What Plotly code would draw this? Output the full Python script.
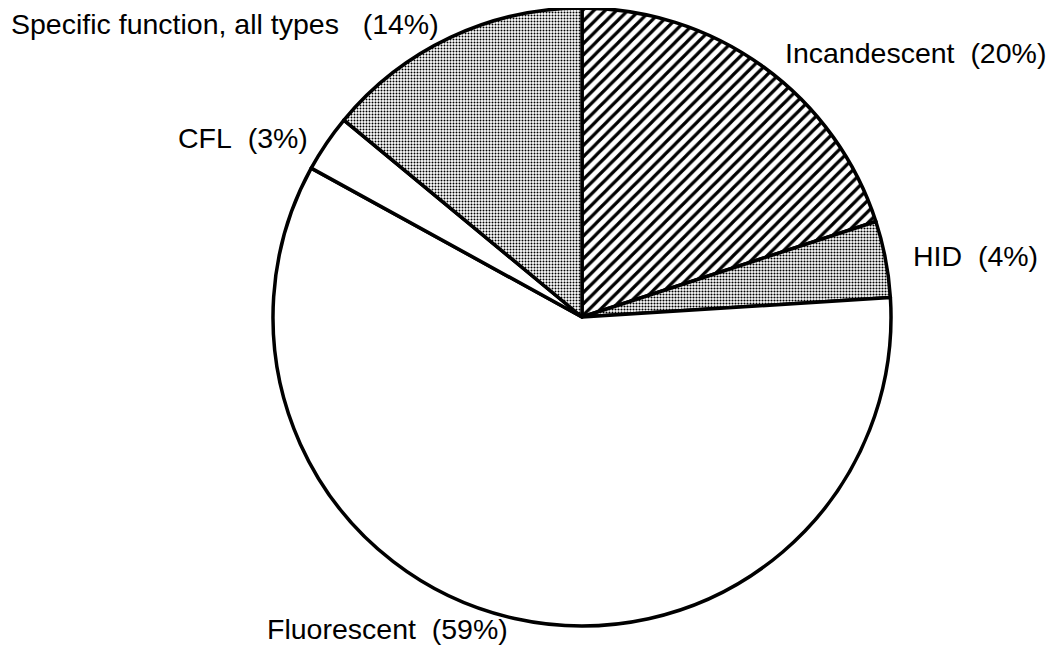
import plotly.graph_objects as go

labels = ["Incandescent", "HID", "Fluorescent", "CFL", "Specific function, all types"]
shares = [20, 4, 59, 3, 14]
patterns = ["/", ".", "", "", "."]

# caption placement (paper coords of the pie domain) and gap before the percentage
label_x = [1.039, 1.136, 0.185, -0.0485, -0.078]
label_y = [0.927, 0.599, -0.005, 0.790, 0.974]
gaps = [2, 2, 2, 2, 3]

fig = go.Figure()
fig.add_trace(go.Pie(
    labels=labels,
    values=shares,
    sort=False,
    direction="clockwise",
    rotation=0,
    textinfo="none",
    hoverinfo="label+percent",
    showlegend=False,
    marker=dict(
        colors=["white"] * len(labels),
        line=dict(color="black", width=3.5),
        pattern=dict(
            shape=patterns,
            fgcolor="black",
            bgcolor="white",
            size=[8, 3, 8, 8, 3],
            solidity=[0.4, 0.4, 0.3, 0.3, 0.35],
        ),
    ),
))

for name, pct, x, y, g in zip(labels, shares, label_x, label_y, gaps):
    fig.add_annotation(
        text=f"{name}{chr(160) * g}({pct}%)",
        x=x, y=y, xref="paper", yref="paper",
        xanchor="center", yanchor="middle",
        showarrow=False,
        font=dict(family="Liberation Sans, Arial", size=28.5, color="black"),
    )

fig.update_layout(
    width=1054,
    height=648,
    paper_bgcolor="white",
    plot_bgcolor="white",
    margin=dict(l=265, r=171, t=0, b=30),
)

fig.write_html("out.html")
